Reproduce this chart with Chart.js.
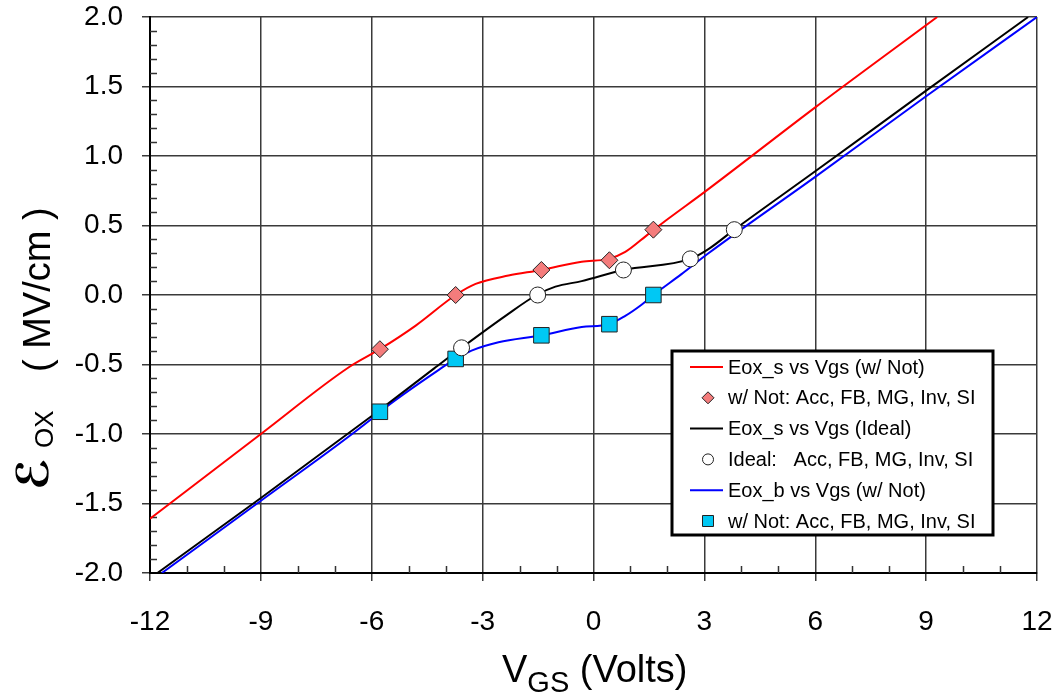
<!DOCTYPE html>
<html>
<head>
<meta charset="utf-8">
<script src="https://cdn.jsdelivr.net/npm/chart.js@4.4.0/dist/chart.umd.min.js"></script>
<style>
html, body { margin: 0; padding: 0; background: #fff; }
#wrap { width: 1062px; height: 696px; }
</style>
</head>
<body>
<div id="wrap"><canvas id="eoxChart" width="1062" height="696"></canvas></div>
<script>
// Eox vs Vgs
const xTicks = [-12, -9, -6, -3, 0, 3, 6, 9, 12];
const yTicks = [-2.0, -1.5, -1.0, -0.5, 0.0, 0.5, 1.0, 1.5, 2.0];

// Eox_s vs Vgs (w/ Not) - red
const lineNotX = [-12, -9, -6.62, -5.78, -4.81, -3.73, -3.19, -2.30, -1.41, -0.32, 0.41, 0.86, 1.49, 2.03, 3.0, 6.0, 9.3];
const lineNotY = [-1.61, -1.00, -0.52, -0.39, -0.22, 0.00, 0.08, 0.14, 0.18, 0.24, 0.26, 0.31, 0.44, 0.55, 0.74, 1.35, 2.0];

// Eox_s vs Vgs (Ideal) - black
const lineIdealX = [-11.8, -9, -6, -4.32, -3.57, -2.38, -1.54, -1.03, -0.32, 0.81, 2.62, 3.11, 3.81, 6, 9, 11.76];
const lineIdealY = [-2.0, -1.46, -0.87, -0.53, -0.38, -0.15, 0.00, 0.06, 0.10, 0.18, 0.26, 0.33, 0.47, 0.89, 1.47, 2.0];

// Eox_b vs Vgs (w/ Not) - blue
const lineBulkX = [-11.68, -9, -6, -5.78, -4.14, -3.73, -3.30, -2.57, -1.41, -0.32, 0.41, 0.86, 1.30, 1.62, 2.38, 3.11, 6, 9, 12];
const lineBulkY = [-2.0, -1.48, -0.89, -0.84, -0.53, -0.46, -0.40, -0.34, -0.29, -0.23, -0.21, -0.15, -0.07, 0.00, 0.15, 0.30, 0.85, 1.43, 2.0];

// Acc, FB, MG, Inv, SI points
const markNotX = [-5.78, -3.73, -1.41, 0.43, 1.62];
const markNotY = [-0.39, 0.00, 0.18, 0.25, 0.47];
const markIdealX = [-3.57, -1.51, 0.81, 2.62, 3.81];
const markIdealY = [-0.38, 0.00, 0.18, 0.26, 0.47];
const markBulkX = [-5.78, -3.73, -1.41, 0.43, 1.62];
const markBulkY = [-0.84, -0.46, -0.29, -0.21, 0.00];

const legendLabels = [
    'Eox_s vs Vgs (w/ Not)',
    'w/ Not: Acc, FB, MG, Inv, SI',
    'Eox_s vs Vgs (Ideal)',
    'Ideal:   Acc, FB, MG, Inv, SI',
    'Eox_b vs Vgs (w/ Not)',
    'w/ Not: Acc, FB, MG, Inv, SI'
];

const FONT = '"Liberation Sans", Arial, sans-serif';

function toPoints(xs, ys) {
    return xs.map(function (x, i) { return { x: x, y: ys[i] }; });
}

function lineSet(label, xs, ys, color) {
    return {
        label: label,
        data: toPoints(xs, ys),
        showLine: true,
        borderColor: color,
        borderWidth: 2,
        pointRadius: 0,
        cubicInterpolationMode: 'monotone',
        order: 1
    };
}

function markSet(label, xs, ys, style, radius, fill) {
    return {
        label: label,
        data: toPoints(xs, ys),
        showLine: false,
        pointStyle: style,
        pointRadius: radius,
        pointBackgroundColor: fill,
        pointBorderColor: '#222',
        pointBorderWidth: 1,
        order: 0
    };
}

// убираем автоматические отступы под подписи
function noScalePad(scale) {
    scale.paddingTop = 0;
    scale.paddingBottom = 0;
    scale.paddingLeft = 0;
    scale.paddingRight = 0;
}

//малые засечки на осях
const minorTicks = {
    id: 'minorTicks',
    beforeDatasetsDraw: function (chart) {
        const ctx = chart.ctx, xs = chart.scales.x, ys = chart.scales.y, a = chart.chartArea;
        ctx.save();
        ctx.strokeStyle = '#333';
        ctx.lineWidth = 1.5;
        ctx.beginPath();
        for (let v = -12; v <= 12; v++) {
            if (v % 3 === 0) continue;
            const px = Math.round(xs.getPixelForValue(v)) + 0.5;
            ctx.moveTo(px, a.bottom);
            ctx.lineTo(px, a.bottom - 7);
        }
        for (let i = -20; i <= 20; i++) {
            if (i % 5 === 0) continue;
            const py = Math.round(ys.getPixelForValue(i / 10)) + 0.5;
            ctx.moveTo(a.left, py);
            ctx.lineTo(a.left + 7, py);
        }
        ctx.stroke();
        ctx.restore();
    }
};

//подписи осей с индексами
const axisTitles = {
    id: 'axisTitles',
    afterDraw: function (chart) {
        const ctx = chart.ctx;
        ctx.save();
        ctx.fillStyle = '#000';
        ctx.textBaseline = 'alphabetic';
        ctx.textAlign = 'left';

        // x: V_GS (Volts)
        let x = 502;
        ctx.font = '38px ' + FONT;
        ctx.fillText('V', x, 682);
        x += ctx.measureText('V').width;
        ctx.font = '29px ' + FONT;
        ctx.fillText('GS', x, 692);
        x += ctx.measureText('GS').width;
        ctx.font = '38px ' + FONT;
        ctx.fillText(' (Volts)', x, 682);

        // y: E_OX ( MV/cm )
        ctx.translate(50, 490);
        ctx.rotate(-Math.PI / 2);
        ctx.font = 'bold italic 44px "DejaVu Serif", "DejaVu Sans", serif';
        ctx.fillText('\u2130', 0, -2);
        ctx.font = '26px ' + FONT;
        ctx.fillText('OX', 42, 3);
        ctx.font = '38px ' + FONT;
        ctx.fillText('( MV/cm )', 118, 0);
        ctx.restore();
    }
};

//легенда внутри области графика
const boxLegend = {
    id: 'boxLegend',
    afterDraw: function (chart) {
        const ctx = chart.ctx;
        const left = 672, top = 351, w = 321, h = 184;
        ctx.save();
        ctx.fillStyle = '#fff';
        ctx.fillRect(left, top, w, h);
        ctx.lineWidth = 3;
        ctx.strokeStyle = '#000';
        ctx.strokeRect(left, top, w, h);
        ctx.font = '20px ' + FONT;
        ctx.textBaseline = 'middle';
        ctx.textAlign = 'left';
        chart.data.datasets.forEach(function (ds, i) {
            const cy = 367 + i * 30.8;
            if (ds.showLine) {
                ctx.strokeStyle = ds.borderColor;
                ctx.lineWidth = 2;
                ctx.beginPath();
                ctx.moveTo(690, cy);
                ctx.lineTo(723, cy);
                ctx.stroke();
            } else {
                const cx = 708;
                ctx.fillStyle = ds.pointBackgroundColor;
                ctx.strokeStyle = '#222';
                ctx.lineWidth = 1;
                ctx.beginPath();
                if (ds.pointStyle === 'rectRot') {
                    ctx.moveTo(cx, cy - 6); ctx.lineTo(cx + 6, cy);
                    ctx.lineTo(cx, cy + 6); ctx.lineTo(cx - 6, cy);
                    ctx.closePath();
                } else if (ds.pointStyle === 'circle') {
                    ctx.arc(cx, cy, 5.5, 0, Math.PI * 2);
                } else {
                    ctx.rect(cx - 5.5, cy - 5.5, 11, 11);
                }
                ctx.fill();
                ctx.stroke();
            }
            ctx.fillStyle = '#000';
            ctx.fillText(legendLabels[i], 728, cy + 1);
        });
        ctx.restore();
    }
};

const ctx = document.getElementById('eoxChart');
const myChart = new Chart(ctx, {
    type: 'scatter',
    data: {
        datasets: [
            lineSet(legendLabels[0], lineNotX, lineNotY, '#ff0000'),
            markSet(legendLabels[1], markNotX, markNotY, 'rectRot', 8.5, '#f47c7c'),
            lineSet(legendLabels[2], lineIdealX, lineIdealY, '#000000'),
            markSet(legendLabels[3], markIdealX, markIdealY, 'circle', 8, '#ffffff'),
            lineSet(legendLabels[4], lineBulkX, lineBulkY, '#0000ff'),
            markSet(legendLabels[5], markBulkX, markBulkY, 'rect', 11, '#00c8f4')
        ]
    },
    options: {
        responsive: false,
        devicePixelRatio: 1,
        animation: false,
        events: [],
        layout: { padding: { top: 17, right: 25, left: 0, bottom: 0 } },
        plugins: {
            legend: { display: false },
            tooltip: { enabled: false }
        },
        scales: {
            x: {
                type: 'linear',
                min: -12,
                max: 12,
                afterBuildTicks: function (scale) {
                    scale.ticks = xTicks.map(function (v) { return { value: v }; });
                },
                afterFit: function (scale) { scale.height = 123; noScalePad(scale); },
                ticks: {
                    autoSkip: false,
                    maxRotation: 0,
                    padding: 24,
                    color: '#000',
                    font: { family: FONT, size: 28 },
                    callback: function (v) { return String(v); }
                },
                grid: { color: '#3a3a3a', lineWidth: 1.5, tickLength: 8 },
                border: { color: '#000', width: 2 }
            },
            y: {
                type: 'linear',
                min: -2,
                max: 2,
                afterBuildTicks: function (scale) {
                    scale.ticks = yTicks.map(function (v) { return { value: v }; });
                },
                afterFit: function (scale) { scale.width = 150; noScalePad(scale); },
                ticks: {
                    padding: 19,
                    color: '#000',
                    font: { family: FONT, size: 28 },
                    callback: function (v) { return Number(v).toFixed(1); }
                },
                grid: { color: '#3a3a3a', lineWidth: 1.5, tickLength: 8 },
                border: { color: '#000', width: 2 }
            }
        }
    },
    plugins: [minorTicks, axisTitles, boxLegend]
});
</script>
</body>
</html>
